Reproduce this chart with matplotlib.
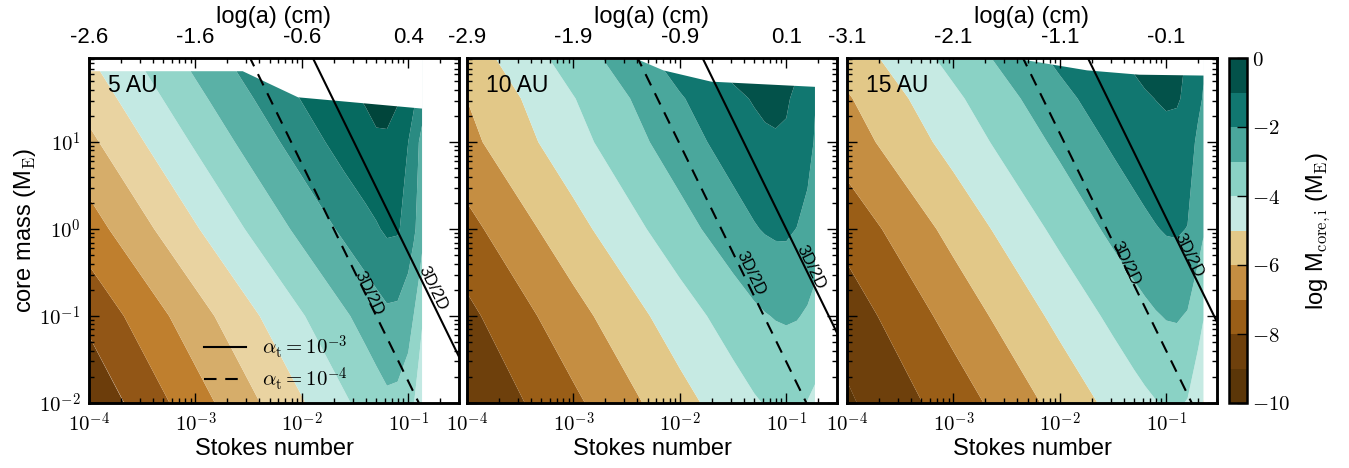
#!/usr/bin/env python3
import matplotlib
matplotlib.use("Agg")
import matplotlib.pyplot as plt
import numpy as np
from matplotlib.ticker import FixedLocator, FuncFormatter, NullFormatter

plt.rcParams["font.family"] = ["Liberation Sans", "DejaVu Sans"]
plt.rcParams["mathtext.fontset"] = "cm"

# rows of every table: log10(core mass / M_E)
LOG_M_ROWS = [-2.0, -1.0, 0.0, 1.0, 1.5, 2.0]

# 5 AU: log10(St) columns, contour values in units of the 5 AU level index
LOG_ST_5AU = [-4.0, -3.0, -2.0, -1.6, -1.4, -1.3, -1.2, -1.1, -1.0, -0.95, -0.9, -0.87]
Z_5AU = [
    [0.22, 2.57, 4.92, 5.86, 6.33, 6.57, 6.80, 6.75, 6.45, 6.05, 5.50, 5.10],
    [1.23, 3.58, 5.93, 6.87, 7.34, 7.58, 7.81, 7.77, 7.40, 7.00, 6.50, 6.15],
    [2.56, 4.91, 7.26, 8.20, 8.67, 8.91, 9.14, 9.10, 8.61, 8.20, 7.68, 7.32],
    [3.78, 6.13, 8.48, 9.42, 9.80, 9.85, 9.85, 9.65, 9.00, 8.55, 8.00, 7.75],
    [4.38, 6.73, 9.05, 9.85, 10.05, 10.30, 10.35, 10.07, 9.55, 9.20, 8.70, 8.40],
    [4.98, 7.33, 9.65, 10.20, 10.40, 10.60, 10.60, 10.40, 10.00, 9.70, 9.30, 9.00],
]
LEVELS_5AU = list(range(12))

# 10 AU: log M_core,i
LOG_ST_10AU = [-4.0, -3.0, -2.0, -1.5, -1.3, -1.2, -1.1, -1.0, -0.9, -0.8, -0.73]
Z_10AU = [
    [-8.95, -7.20, -5.35, -4.45, -4.10, -3.96, -3.87, -3.82, -3.88, -4.03, -4.20],
    [-8.25, -6.36, -4.47, -3.55, -3.19, -3.05, -2.95, -2.90, -2.95, -3.10, -3.27],
    [-7.31, -5.35, -3.39, -2.43, -2.07, -1.93, -1.85, -1.85, -2.02, -2.30, -2.55],
    [-6.28, -4.37, -2.46, -1.57, -1.27, -1.15, -1.09, -1.12, -1.28, -1.65, -2.08],
    [-5.99, -4.04, -2.09, -1.20, -0.93, -0.82, -0.80, -0.90, -1.18, -1.58, -1.95],
    [-5.50, -3.50, -1.50, -0.60, -0.35, -0.30, -0.35, -0.50, -0.80, -1.20, -1.50],
]

# 15 AU: log M_core,i
LOG_ST_15AU = [-4.0, -3.0, -2.0, -1.5, -1.3, -1.2, -1.1, -1.0, -0.9, -0.8, -0.7, -0.65]
Z_15AU = [
    [-9.15, -7.53, -5.66, -4.73, -4.36, -4.19, -4.04, -3.92, -3.89, -4.05, -4.61, -5.05],
    [-8.55, -6.64, -4.73, -3.78, -3.41, -3.23, -3.07, -2.95, -2.92, -3.07, -3.63, -3.95],
    [-7.64, -5.69, -3.74, -2.77, -2.39, -2.21, -2.05, -1.92, -1.89, -2.03, -2.59, -2.90],
    [-6.50, -4.64, -2.78, -1.85, -1.51, -1.36, -1.24, -1.17, -1.18, -1.35, -2.28, -2.60],
    [-6.10, -4.20, -2.30, -1.40, -1.15, -1.07, -0.99, -0.93, -0.95, -1.10, -1.70, -2.10],
    [-5.54, -3.64, -1.74, -1.05, -0.88, -0.75, -0.65, -0.60, -0.80, -1.05, -1.50, -1.80],
]
LEVELS_AU = list(range(-10, 1))

# upper edge of the computed region (log10 St, log10 M)
EDGE_ST_5AU = [-4.0, -2.56, -2.04, -0.87]
EDGE_M_5AU = [1.82, 1.82, 1.52, 1.39]
EDGE_ST_10AU = [-4.0, -2.39, -2.16, -1.71, -0.73]
EDGE_M_10AU = [1.95, 1.95, 1.83, 1.70, 1.64]
EDGE_ST_15AU = [-4.0, -2.34, -1.75, -1.26, -0.65]
EDGE_M_15AU = [1.95, 1.95, 1.83, 1.78, 1.77]

# 3D/2D transition lines: log10 St at log10 M = 2 and -2
LINE_LOG_M = [2.0, -2.0]
SOLID_5AU = [-1.91, -0.31]
DASHED_5AU = [-2.50, -0.90]
SOLID_10AU = [-1.80, -0.20]
DASHED_10AU = [-2.41, -0.81]
SOLID_15AU = [-1.75, -0.15]
DASHED_15AU = [-2.36, -0.76]

TICK_ST = [1e-4, 1e-3, 1e-2, 1e-1]
TOP_5AU = ["-2.6", "-1.6", "-0.6", "0.4"]
TOP_10AU = ["-2.9", "-1.9", "-0.9", "0.1"]
TOP_15AU = ["-3.1", "-2.1", "-1.1", "-0.1"]
NAMES = ["5 AU", "10 AU", "15 AU"]
CBAR_TICKS = [0, -2, -4, -6, -8, -10]

COLORS_5AU = ["#6c3d0b", "#925616", "#bf7f2e", "#d6ad6a", "#e9d3a1", "#c3e9e3",
              "#93d5c9", "#5ab1a6", "#2a8b82", "#066a60", "#01453b"]
COLORS_AU = ["#5b3608", "#6e400c", "#9a5e17", "#c58e42", "#e2c888", "#c6eae3",
             "#8ad2c5", "#4aa79c", "#117770", "#03524a"]

# label centres (log10 St, log10 M): solid, dashed
LABEL_POS = [[(-0.765, -0.68), (-1.37, -0.74)],
             [(-0.77, -0.44), (-1.335, -0.51)],
             [(-0.785, -0.30), (-1.38, -0.39)]]

W, H = 1349, 468
LEFT_PX = [89, 467, 847]
DASH = (0, (6, 4.2))
LABEL_FS = 17
TICK_FS = 16


def decade(v, pos):
  return r"$10^{%d}$" % int(round(np.log10(v)))


def draw_panel(fig, i, log_st, z, levels, colors, edge_st, edge_m, solid, dashed, top_labels):
  ax = fig.add_axes([LEFT_PX[i] / W, (H - 403) / H, 370 / W, 345 / H])
  ax.set_xscale("log")
  ax.set_yscale("log")
  ax.set_xlim(1e-4, 0.3)
  ax.set_ylim(1e-2, 92.5)
  # contour in log10 space, then map straight onto the log axes
  logspace = ax.transLimits + ax.transAxes
  cs = ax.contourf(log_st, LOG_M_ROWS, np.array(z), levels=levels, colors=colors,
                   transform=logspace, antialiased=True)
  ax.set_xlim(1e-4, 0.3)
  ax.set_ylim(1e-2, 92.5)
  ax.fill_between(10 ** np.array(edge_st), 10 ** np.array(edge_m), 1e3,
                  color="white", lw=0, zorder=1.5)

  ym = 10 ** np.array(LINE_LOG_M)
  ls = 10 ** np.array(solid)
  ld = 10 ** np.array(dashed)
  ax.plot(ls, ym, color="k", lw=1.5, zorder=3, label=r"$\alpha_{\rm t} = 10^{-3}$")
  ax.plot(ld, ym, color="k", lw=1.5, ls=DASH, zorder=3, label=r"$\alpha_{\rm t} = 10^{-4}$")
  for xs, pos in zip([ls, ld], LABEL_POS[i]):
    p = ax.transData.transform(np.column_stack([xs, ym]))
    ang = np.degrees(np.arctan2(p[1, 1] - p[0, 1], p[1, 0] - p[0, 0]))
    ax.text(10 ** pos[0], 10 ** pos[1], "3D/2D", rotation=ang, rotation_mode="anchor",
            ha="center", va="center", fontsize=12, zorder=4)

  ax.text(0.05, 0.92, NAMES[i], transform=ax.transAxes, fontsize=16.5, ha="left", va="center")

  ax.xaxis.set_major_formatter(FuncFormatter(decade))
  ax.yaxis.set_major_formatter(FuncFormatter(decade))
  ax.tick_params(which="both", direction="in", top=False, right=True, width=1)
  ax.tick_params(which="major", length=7, labelsize=15, pad=6)
  ax.tick_params(which="minor", length=3.5)
  ax.set_xlabel("Stokes number", fontsize=LABEL_FS, labelpad=2)
  if i == 0:
    ax.set_ylabel(r"core mass (M$_{\rm E}$)", fontsize=LABEL_FS, labelpad=1)
    ax.legend(loc="lower left", bbox_to_anchor=(0.26, -0.025), frameon=False, fontsize=15,
              handlelength=2.0, labelspacing=0.2)
  else:
    ax.tick_params(labelleft=False)
  for s in ax.spines.values():
    s.set_linewidth(1.8)

  top = ax.twiny()
  top.set_xscale("log")
  top.set_xlim(ax.get_xlim())
  top.xaxis.set_major_locator(FixedLocator(TICK_ST))
  top.set_xticklabels(top_labels)
  top.xaxis.set_minor_formatter(NullFormatter())
  top.tick_params(which="both", direction="in", width=1)
  top.tick_params(which="major", length=7, labelsize=TICK_FS, pad=7)
  top.tick_params(which="minor", length=3.5)
  top.set_xlabel("log(a) (cm)", fontsize=LABEL_FS, labelpad=3)
  for s in top.spines.values():
    s.set_linewidth(1.8)
  return cs


def main():
  fig = plt.figure(figsize=(W / 100, H / 100), dpi=100)
  draw_panel(fig, 0, LOG_ST_5AU, Z_5AU, LEVELS_5AU, COLORS_5AU,
             EDGE_ST_5AU, EDGE_M_5AU, SOLID_5AU, DASHED_5AU, TOP_5AU)
  draw_panel(fig, 1, LOG_ST_10AU, Z_10AU, LEVELS_AU, COLORS_AU,
             EDGE_ST_10AU, EDGE_M_10AU, SOLID_10AU, DASHED_10AU, TOP_10AU)
  cs = draw_panel(fig, 2, LOG_ST_15AU, Z_15AU, LEVELS_AU, COLORS_AU,
                  EDGE_ST_15AU, EDGE_M_15AU, SOLID_15AU, DASHED_15AU, TOP_15AU)

  cax = fig.add_axes([1229 / W, (H - 403) / H, 18 / W, 345 / H])
  cb = fig.colorbar(cs, cax=cax, ticks=CBAR_TICKS)
  cb.ax.yaxis.set_major_formatter(FuncFormatter(lambda v, p: r"$%d$" % int(round(v))))
  cb.ax.tick_params(direction="in", length=7, width=1, labelsize=15)
  cb.outline.set_linewidth(1.8)
  cb.set_label(r"log M$_{\rm core,i}$ (M$_{\rm E}$)", fontsize=LABEL_FS, labelpad=10)

  fig.savefig("out.png", dpi=100)


if __name__ == "__main__":
  main()
